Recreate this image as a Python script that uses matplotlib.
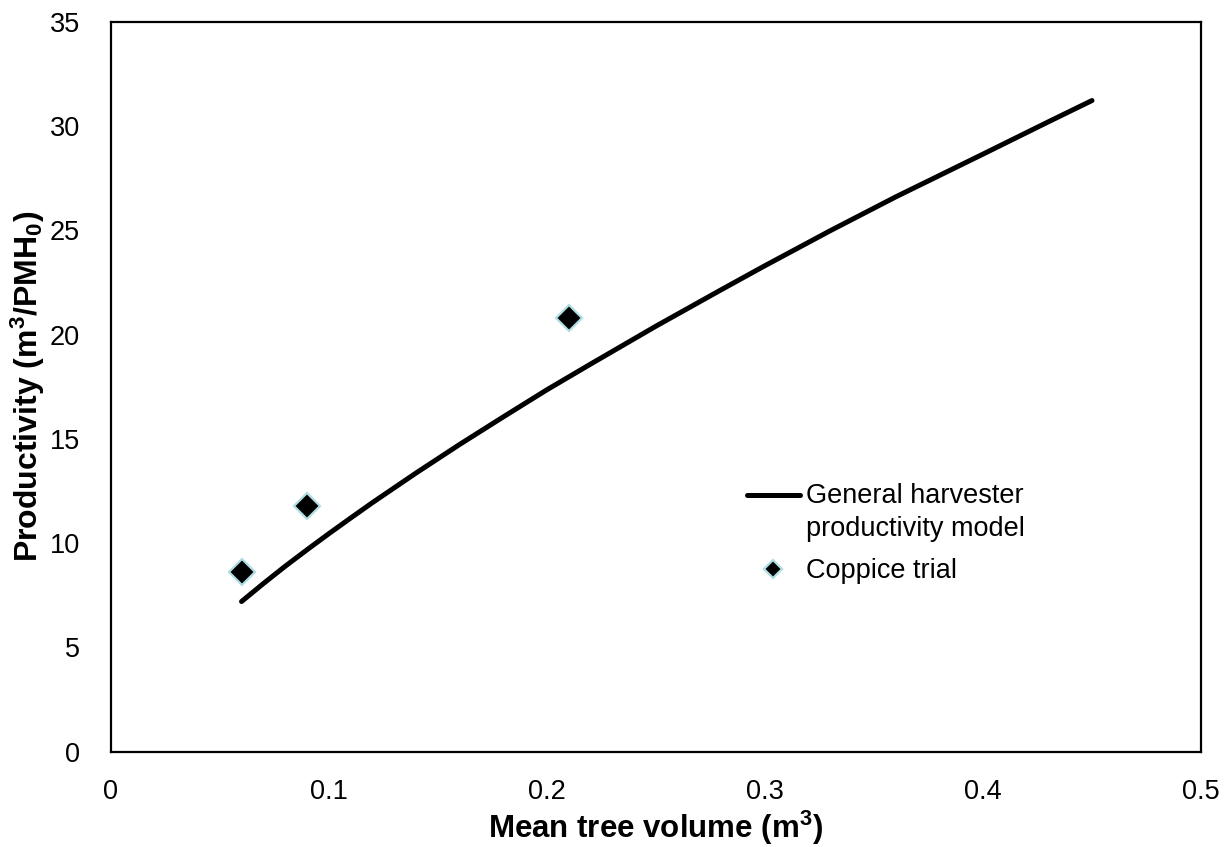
import matplotlib
matplotlib.use("Agg")
import matplotlib.pyplot as plt
from matplotlib.legend_handler import HandlerLine2D

# Model curve
model_x = [0.06, 0.07, 0.08, 0.09, 0.10, 0.11, 0.12, 0.14, 0.16, 0.18, 0.20,
           0.22, 0.25, 0.28, 0.30, 0.33, 0.36, 0.40, 0.43, 0.45]
model_y = [7.20, 8.06, 8.89, 9.68, 10.45, 11.20, 11.94, 13.36, 14.73, 16.05, 17.35,
           18.58, 20.40, 22.15, 23.30, 24.98, 26.60, 28.65, 30.20, 31.22]

# Coppice trial points
trial_x = [0.06, 0.09, 0.21]
trial_y = [8.6, 11.8, 20.8]

xticks = [0, 0.1, 0.2, 0.3, 0.4, 0.5]
xtick_labels = ["0", "0.1", "0.2", "0.3", "0.4", "0.5"]
yticks = [0, 5, 10, 15, 20, 25, 30, 35]

plt.rcParams['font.family'] = ['Liberation Sans', 'DejaVu Sans']
plt.rcParams['mathtext.fontset'] = 'custom'
plt.rcParams['mathtext.rm'] = 'Liberation Sans'
plt.rcParams['mathtext.bf'] = 'Liberation Sans:bold'
plt.rcParams['mathtext.it'] = 'Liberation Sans:italic'

LEG_LINESPACING = 1.35


class HandlerTopLine(HandlerLine2D):
    """Place the line handle at the first text line of a two-line label."""
    def create_artists(self, legend, orig_handle, xdescent, ydescent, width,
                       height, fontsize, trans):
        return super().create_artists(legend, orig_handle, xdescent,
                                      ydescent - LEG_LINESPACING * fontsize, width, height,
                                      fontsize, trans)


fig = plt.figure(figsize=(12.25, 8.47), dpi=100)
ax = fig.add_axes([110.7 / 1225, 1 - 751.7 / 847, (1201 - 110.7) / 1225, (751.7 - 21.7) / 847])

line, = ax.plot(model_x, model_y, color='black', linewidth=3.6, solid_capstyle='round',
                solid_joinstyle='round', label='General harvester\nproductivity model')
ax.plot(trial_x, trial_y, linestyle='none', marker='D', markersize=13,
        markerfacecolor='black', markeredgecolor='#b0dde2', markeredgewidth=1.6,
        label='Coppice trial')

ax.set_xlim(0, 0.5)
ax.set_ylim(0, 35)
ax.set_xticks(xticks)
ax.set_xticklabels(xtick_labels)
ax.set_yticks(yticks)
ax.tick_params(length=0, labelsize=19.5)
ax.tick_params(axis='x', pad=20)
ax.tick_params(axis='y', pad=22)

for s in ax.spines.values():
    s.set_linewidth(1.6)
    s.set_color('black')

ax.set_xlabel('Mean tree volume (m$^{\\mathbf{3}}$)', fontsize=22.5, fontweight='bold', labelpad=2)
ax.set_ylabel('Productivity (m$^{\\mathbf{3}}$/PMH$_{\\mathbf{0}}$)', fontsize=23,
              fontweight='bold', labelpad=2)

leg = ax.legend(loc='upper left', bbox_to_anchor=(0.5735, 0.383), frameon=False,
                fontsize=19.5, handlelength=1.95, handletextpad=0.22, labelspacing=0.6,
                borderaxespad=0, markerscale=0.7,
                handler_map={line: HandlerTopLine()})
for t in leg.get_texts():
    t.set_linespacing(LEG_LINESPACING)

fig.savefig('out.png', dpi=100, facecolor='white')
